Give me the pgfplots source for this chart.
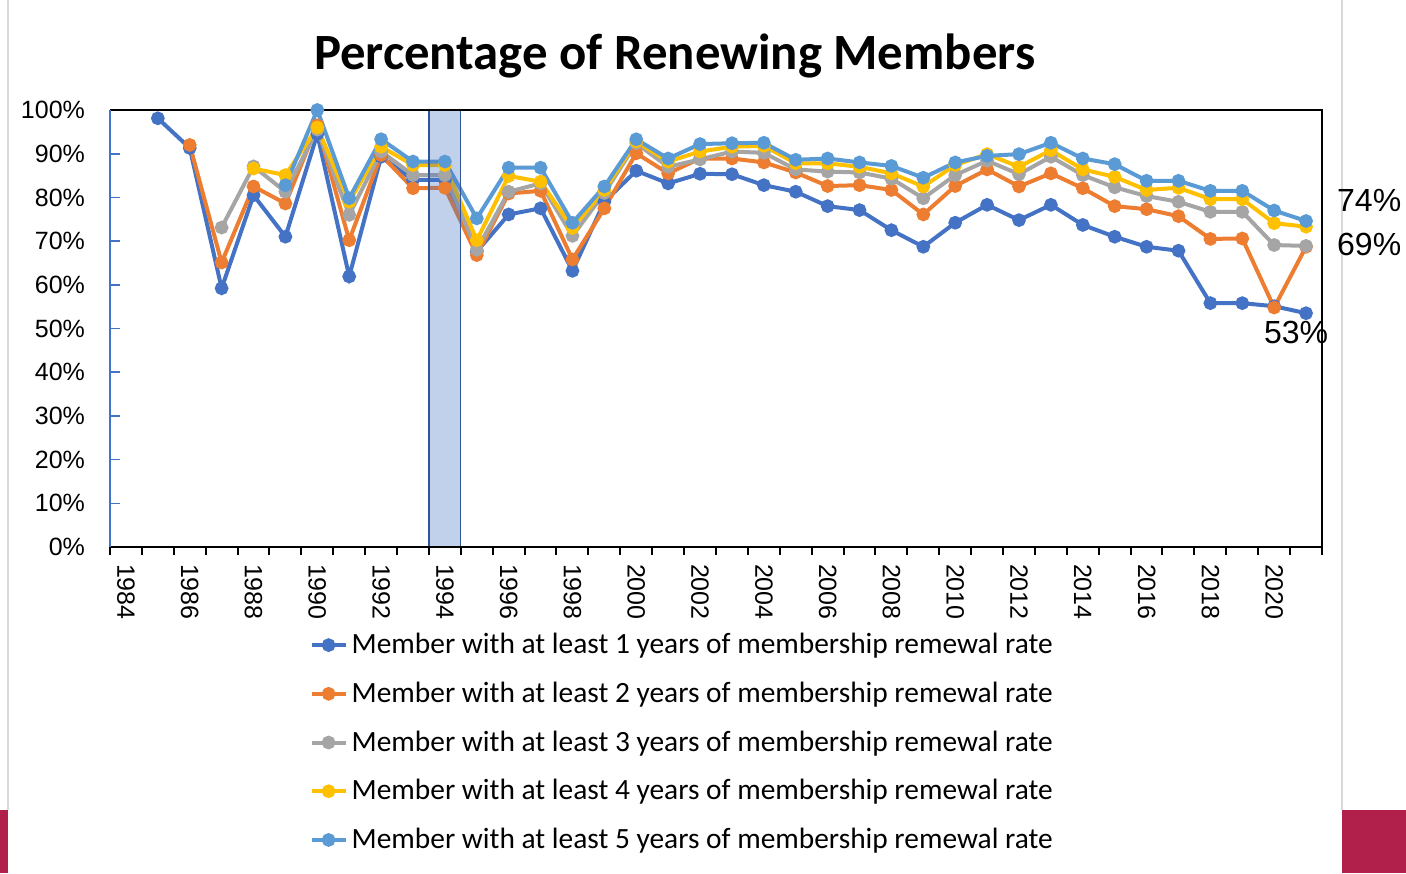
\documentclass[border=0pt]{standalone}
\usepackage{fontspec}
\setmainfont{Carlito}
\newfontfamily\arial{Liberation Sans}
\usepackage{pgfplots}
\usepackage{pgfplotstable}
\pgfplotsset{compat=1.18}
\definecolor{sA}{HTML}{4472C4}
\definecolor{sB}{HTML}{ED7D31}
\definecolor{sC}{HTML}{A5A5A5}
\definecolor{sD}{HTML}{FFC000}
\definecolor{sE}{HTML}{5B9BD5}
\definecolor{bandedge}{HTML}{2F5597}
\definecolor{crimson}{HTML}{B0204A}
\definecolor{frame}{HTML}{D9D9D9}

\pgfplotstableread{
year val
1985 98.1
1986 91.3
1987 59.2
1988 80.5
1989 71.0
1990 94.5
1991 61.9
1992 89.3
1993 84.0
1994 84.0
1995 67.6
1996 76.1
1997 77.5
1998 63.2
1999 79.0
2000 86.1
2001 83.2
2002 85.4
2003 85.3
2004 82.8
2005 81.3
2006 78.0
2007 77.1
2008 72.5
2009 68.7
2010 74.2
2011 78.3
2012 74.8
2013 78.3
2014 73.7
2015 71.0
2016 68.7
2017 67.8
2018 55.8
2019 55.8
2020 55.1
2021 53.5
}\seriesA

\pgfplotstableread{
year val
1986 92.0
1987 65.1
1988 82.5
1989 78.6
1990 96.5
1991 70.2
1992 89.7
1993 82.1
1994 82.2
1995 66.8
1996 80.9
1997 81.5
1998 65.8
1999 77.5
2000 90.1
2001 85.5
2002 88.9
2003 88.9
2004 88.0
2005 85.7
2006 82.6
2007 82.8
2008 81.7
2009 76.1
2010 82.6
2011 86.4
2012 82.5
2013 85.5
2014 82.1
2015 78.0
2016 77.3
2017 75.7
2018 70.5
2019 70.6
2020 54.8
2021 68.7
}\seriesB

\pgfplotstableread{
year val
1987 73.1
1988 87.1
1989 81.3
1990 95.5
1991 76.0
1992 90.5
1993 85.1
1994 85.1
1995 68.0
1996 81.3
1997 83.2
1998 71.2
1999 81.0
2000 92.4
2001 87.0
2002 88.7
2003 90.5
2004 90.2
2005 86.4
2006 85.9
2007 85.7
2008 84.3
2009 79.8
2010 85.1
2011 88.4
2012 85.3
2013 89.3
2014 85.1
2015 82.3
2016 80.3
2017 79.0
2018 76.7
2019 76.7
2020 69.1
2021 68.9
}\seriesC

\pgfplotstableread{
year val
1988 86.6
1989 85.1
1990 96.0
1991 79.0
1992 91.6
1993 87.4
1994 87.4
1995 70.2
1996 84.9
1997 83.6
1998 73.0
1999 81.7
2000 92.8
2001 88.2
2002 90.5
2003 91.6
2004 91.8
2005 87.8
2006 87.8
2007 87.0
2008 85.5
2009 82.5
2010 87.4
2011 89.9
2012 87.0
2013 90.8
2014 86.4
2015 84.7
2016 81.7
2017 82.2
2018 79.6
2019 79.6
2020 74.1
2021 73.3
}\seriesD

\pgfplotstableread{
year val
1989 82.8
1990 100.0
1991 79.8
1992 93.3
1993 88.2
1994 88.2
1995 75.2
1996 86.8
1997 86.8
1998 74.2
1999 82.5
2000 93.3
2001 88.9
2002 92.2
2003 92.4
2004 92.5
2005 88.6
2006 88.9
2007 88.0
2008 87.2
2009 84.5
2010 88.0
2011 89.5
2012 89.9
2013 92.5
2014 88.9
2015 87.6
2016 83.8
2017 83.8
2018 81.5
2019 81.5
2020 77.0
2021 74.6
}\seriesE

\begin{document}
\begin{tikzpicture}
\useasboundingbox (-55pt,-163pt) rectangle (648pt,273.5pt);
\fill[white] (-55pt,-163pt) rectangle (648pt,273.5pt);
\draw[frame, line width=0.6pt] (-51pt,273.5pt) -- (-51pt,-131.5pt);
\draw[frame, line width=0.6pt] (616pt,273.5pt) -- (616pt,-131.5pt);
\fill[crimson] (-55pt,-131.5pt) rectangle (-51pt,-163pt);
\fill[crimson] (616pt,-131.5pt) rectangle (648pt,-163pt);
\begin{axis}[
  at={(0,0)}, anchor=south west,
  scale only axis, width=606pt, height=218.5pt,
  xmin=1983.5, xmax=2021.5, ymin=0, ymax=100,
  clip=false,
  axis line style={draw=none},
  xtick={1984,1986,...,2020},
  xticklabels={1984,1986,1988,1990,1992,1994,1996,1998,2000,2002,2004,2006,2008,2010,2012,2014,2016,2018,2020},
  minor xtick={1983.5,1984.5,...,2021.5},
  major x tick style={draw=none},
  minor x tick style={black, line width=1pt},
  minor tick length=4pt,
  xtick align=outside,
  xtick pos=bottom,
  xticklabel style={font=\arial\fontsize{12.5}{14}\selectfont, rotate=-90, anchor=west, yshift=0pt},
  ytick={0,10,...,100},
  yticklabels={0\%,10\%,20\%,30\%,40\%,50\%,60\%,70\%,80\%,90\%,100\%},
  ytick pos=left,
  ytick align=inside,
  major tick length=5pt,
  major y tick style={sA, line width=0.8pt},
  yticklabel style={font=\arial\fontsize{12.5}{14}\selectfont, xshift=-9pt},
  legend style={draw=none, fill=none, at={(0.1643,-0.1876)}, anchor=north west,
    font=\fontsize{14.7}{17}\selectfont, row sep=8.65pt, inner sep=0pt},
  legend cell align=left,
  every axis plot/.append style={line width=2pt, mark=*, mark size=2.4pt, mark options={solid}},
]
\addplot[sA, mark options={fill=sA}] table[x=year,y=val] {\seriesA};
\addlegendentry{Member with at least 1 years of membership remewal rate}
\addplot[sB, mark options={fill=sB}] table[x=year,y=val] {\seriesB};
\addlegendentry{Member with at least 2 years of membership remewal rate}
\addplot[sC, mark options={fill=sC}] table[x=year,y=val] {\seriesC};
\addlegendentry{Member with at least 3 years of membership remewal rate}
\addplot[sD, mark options={fill=sD}] table[x=year,y=val] {\seriesD};
\addlegendentry{Member with at least 4 years of membership remewal rate}
\addplot[sE, mark options={fill=sE}] table[x=year,y=val] {\seriesE};
\addlegendentry{Member with at least 5 years of membership remewal rate}
\addplot[forget plot, line width=0.6pt, draw=bandedge, fill=sA, fill opacity=0.33, mark=none]
  coordinates {(1993.5,0) (1993.5,100) (1994.5,100) (1994.5,0) (1993.5,0)};
\draw[black, line width=1.25pt] (rel axis cs:0,0) -- (rel axis cs:1,0) -- (rel axis cs:1,1) -- (rel axis cs:0,1);
\draw[sA, line width=0.8pt] (rel axis cs:0,0) -- (rel axis cs:0,1);
\node[font=\bfseries\fontsize{25.4}{30}\selectfont] at (rel axis cs:0.466,1.124) {Percentage of Renewing Members};
\node[font=\arial\fontsize{16}{18}\selectfont] at (axis cs:2022.98,79.2) {74\%};
\node[font=\arial\fontsize{16}{18}\selectfont] at (axis cs:2022.98,69.3) {69\%};
\node[font=\arial\fontsize{16}{18}\selectfont] at (axis cs:2020.69,49.0) {53\%};
\end{axis}
\end{tikzpicture}
\end{document}
